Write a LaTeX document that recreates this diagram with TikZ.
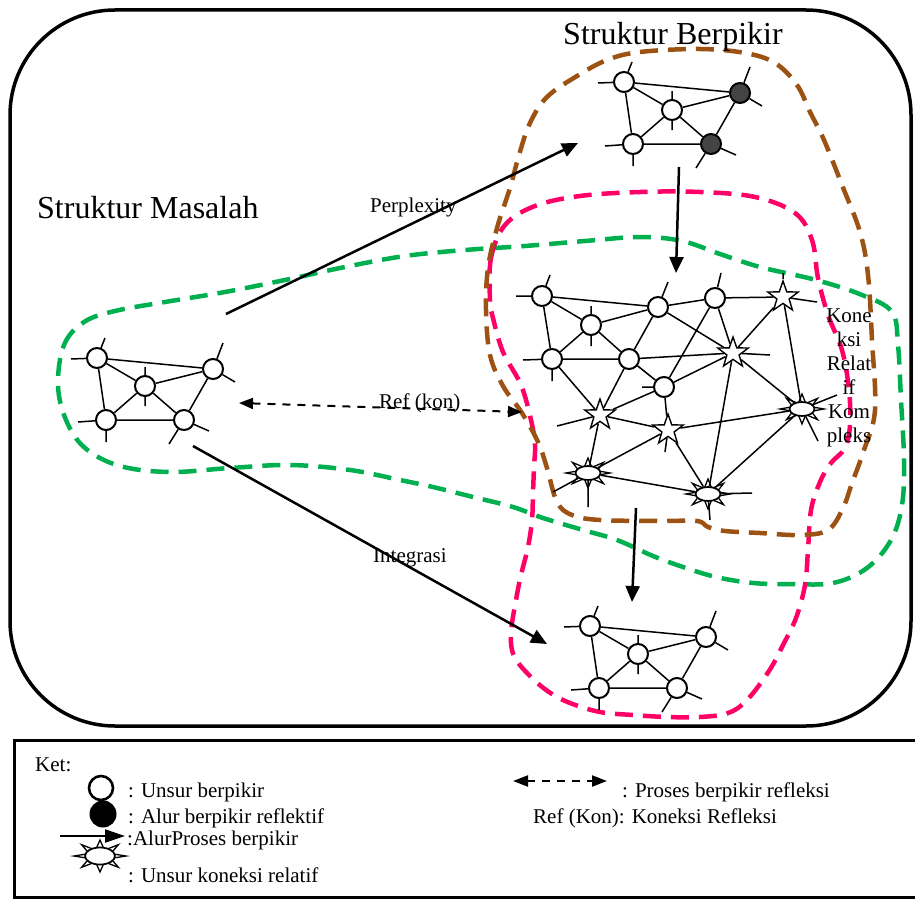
\documentclass[tikz,border=0pt]{standalone}
\usepackage{fontspec}
\setmainfont{Liberation Serif}
\usetikzlibrary{arrows.meta,shapes.geometric}

\definecolor{brownline}{RGB}{156,82,18}
\definecolor{pinkline}{RGB}{255,0,102}
\definecolor{greenline}{RGB}{0,176,80}
\definecolor{darknode}{RGB}{68,68,68}

\tikzset{
  unsur/.style={circle, draw, line width=2pt, fill=white, minimum size=20pt, inner sep=0pt},
  alur/.style={unsur, fill=darknode},
  bintang/.style={star, star points=5, star point ratio=2.5, draw, line width=1.4pt, fill=white, minimum size=32pt, inner sep=0pt},
  koneksi/.style={ellipse, draw, line width=1.7pt, fill=white, minimum width=25pt, minimum height=14pt, inner sep=0pt},
  spike/.style={draw, line width=1.3pt, fill=white, line join=miter},
  edge/.style={line width=1.5pt},
  flow/.style={line width=2.5pt, -{Triangle[length=16pt,width=14pt]}},
  refl/.style={line width=2pt, dash pattern=on 8pt off 7pt, {Triangle[length=14pt,width=11pt]}-{Triangle[length=14pt,width=11pt]}},
  region/.style={line width=4.5pt, dash pattern=on 18pt off 10pt},
  titletext/.style={font=\fontsize{32}{38}\selectfont, inner sep=0pt},
  labeltext/.style={font=\fontsize{21}{24}\selectfont, inner sep=0pt},
}

% small network: #1 prefix, #2 x, #3 y, #4 style of right node, #5 style of lower right node
\newcommand{\jaringankecil}[5]{%
  \begin{scope}[shift={(#2,#3)}]
    \node[unsur] (#1a) at (0,0) {};
    \node[unsur] (#1b) at (48,28) {};
    \node[#4] (#1c) at (116,11) {};
    \node[unsur] (#1d) at (9,62) {};
    \node[#5] (#1e) at (87,62) {};
    \draw[edge] (#1a) -- (#1c) (#1a) -- (#1b) (#1a) -- (#1d) (#1b) -- (#1c)
      (#1b) -- (#1d) (#1b) -- (#1e) (#1d) -- (#1e) (#1c) -- (#1e);
    \draw[edge] (#1a) -- +(8,-20) (#1a) -- +(-26,1) (#1b) -- +(0,-19) (#1b) -- +(0,20)
      (#1c) -- +(10,-26) (#1c) -- +(22,13) (#1d) -- +(-28,2) (#1d) -- +(0,22)
      (#1e) -- +(-15,24) (#1e) -- +(25,11);
  \end{scope}}

% relative-connection element: #1 name, #2 position, #3 spike x radius, #4 spike y radius, #5 ellipse style
\newcommand{\unsurkoneksi}[5]{%
  \draw[spike, shift={#2}] plot[samples at={0,22.5,...,337.5}, variable=\a]
    ({(#3*(1-0.55*mod(round(\a/22.5),2)))*cos(\a)}, {(#4*(1-0.6*mod(round(\a/22.5),2)))*sin(\a)}) -- cycle;
  \node[koneksi, #5] (#1) at #2 {};}

\begin{document}
\begin{tikzpicture}[x=1pt, y=-1pt]
\useasboundingbox (0,0) rectangle (915,899);

% frame
\draw[line width=3.5pt, rounded corners=105pt] (10,10) rectangle (911,726);

% grouping regions
\draw[region, greenline] plot[smooth cycle, tension=0.6] coordinates {(58,385) (64,345) (84,322) (115,311) (165,302) (225,292) (285,280) (345,267) (405,256) (465,250) (525,246) (585,241) (640,237) (682,241) (720,254) (760,267) (816,280) (862,295) (892,312) (898,345) (901,400) (904,460) (902,505) (891,540) (867,568) (833,583) (790,584) (753,583) (716,577) (683,567) (653,556) (617,540) (583,530) (543,518) (513,507) (473,497) (433,487) (400,480) (350,470) (290,465) (230,468) (170,472) (120,466) (85,448) (66,420)};
\draw[region, pinkline] plot[smooth cycle, tension=0.6] coordinates {(490,300) (491,258) (505,225) (535,206) (580,196) (640,192) (700,192) (755,197) (795,213) (812,240) (818,278) (828,315) (842,350) (849,390) (850,425) (845,448) (831,463) (820,482) (811,510) (808,550) (805,585) (796,618) (783,645) (769,671) (747,700) (728,713) (700,717) (667,717) (633,715) (600,712) (570,703) (549,692) (530,676) (514,656) (511,633) (516,600) (521,575) (528,547) (532,520) (533,493) (534,467) (535,445) (531,420) (521,385) (503,352) (493,318)};
\draw[region, brownline] plot[smooth cycle, tension=0.6] coordinates {(607,60) (640,52) (700,49) (745,53) (775,63) (797,85) (810,112) (824,140) (842,185) (860,232) (868,275) (872,340) (875,410) (864,450) (852,483) (843,508) (828,530) (800,535) (760,533) (725,531) (708,527) (697,521) (660,521) (600,520) (572,515) (557,502) (547,468) (538,442) (522,413) (503,386) (490,355) (486,310) (488,268) (497,228) (510,188) (519,155) (530,123) (547,97) (577,76)};

% titles
\node[titletext, anchor=base west] (tmasalah) at (37,218) {Struktur Masalah};
\node[titletext, anchor=base west] (tberpikir) at (563,45) {Struktur Berpikir};

% small networks
\jaringankecil{L}{97}{358}{unsur}{unsur}
\jaringankecil{T}{624}{82}{alur}{alur}
\jaringankecil{B}{590}{626}{unsur}{unsur}

% central network
\node[unsur] (m1) at (542,296) {};
\node[unsur] (m2) at (591,325) {};
\node[unsur] (m3) at (658,307) {};
\node[unsur] (m4) at (715,298) {};
\node[unsur] (m5) at (552,359) {};
\node[unsur] (m6) at (629,359) {};
\node[unsur] (m7) at (664,387) {};
\node[bintang] (s1) at (783,297) {};
\node[bintang] (s2) at (733,353) {};
\node[bintang] (s3) at (600,415) {};
\node[bintang] (s4) at (668,430) {};
\unsurkoneksi{u1}{(802,409)}{22}{15}{}
\unsurkoneksi{u2}{(588,473)}{22}{15}{}
\unsurkoneksi{u3}{(708,494)}{22}{15}{}

\draw[edge] (m1) -- (m3) (m1) -- (m2) (m1) -- (m5) (m2) -- (m3) (m2) -- (m5) (m2) -- (m6)
  (m5) -- (m6) (m3) -- (m6) (m3) -- (m4) (m3) -- (s2) (m4) -- (s1) (m4) -- (m7) (m4) -- (s2)
  (s1) -- (s2) (s1) -- (u1) (m6) -- (s2) (m6) -- (m7) (m7) -- (s2) (m7) -- (s3) (m7) -- (s4)
  (m5) -- (s3) (m6) -- (s3) (s3) -- (s4) (s3) -- (u2) (s4) -- (u1) (s4) -- (u3) (s4) -- (u2)
  (u2) -- (u3) (s2) -- (u3) (s2) -- (u1) (u3) -- (u1);
\draw[edge] (m1) -- +(8,-21) (m1) -- +(-26,0) (m2) -- +(0,-19) (m2) -- +(0,21)
  (m3) -- +(10,-25) (m4) -- +(6,-25) (m5) -- +(-29,1) (m5) -- +(0,22) (m7) -- +(-22,0)
  (s1) -- +(0,-24) (s1) -- +(34,5) (s2) -- +(37,2) (s3) -- +(-43,11) (s4) -- +(-3,22)
  (u1) -- +(35,-14) (u1) -- +(16,32) (u2) -- +(-35,19) (u2) -- +(0,34)
  (u3) -- +(44,-1) (u3) -- +(2,26);

\node[labeltext, align=center] (lkoneksi) at (849,378) {Kone\\ksi\\Relat\\if\\Kom\\pleks};

% process arrows
\coordinate (perA) at (226,314);
\coordinate (perB) at (578,143);
\draw[flow] (perA) -- (perB);
\node[labeltext, anchor=base west] (lperp) at (370,212) {Perplexity};

\coordinate (intA) at (193,446);
\coordinate (intB) at (547,644);
\draw[flow] (intA) -- (intB);
\node[labeltext, anchor=base west] (lint) at (373,562) {Integrasi};

\coordinate (refA) at (239,403);
\coordinate (refB) at (522,412);
\draw[refl] (refA) -- (refB);
\node[labeltext, anchor=base west] (lref) at (379,408) {Ref (kon)};

\coordinate (dA) at (679,167);
\coordinate (dB) at (676,273);
\draw[flow] (dA) -- (dB);
\coordinate (eA) at (636,508);
\coordinate (eB) at (632,602);
\draw[flow] (eA) -- (eB);

% legend
\draw[line width=3pt] (930,740) -- (14,740) -- (14,897) -- (930,897);
\node[labeltext, anchor=base west] (ket) at (35,771) {Ket:};
\node[unsur, minimum size=24pt, line width=2.6pt] (kc1) at (101,788) {};
\node[labeltext, anchor=base west] (kt1) at (128,797) {: Unsur berpikir};
\node[circle, fill=black, minimum size=27pt, inner sep=0pt] (kc2) at (103,814) {};
\node[labeltext, anchor=base west] (kt2) at (128,823) {: Alur berpikir reflektif};
\coordinate (kaA) at (60,836);
\coordinate (kaB) at (125,836);
\draw[line width=2.2pt, -{Triangle[length=20pt,width=13pt]}] (kaA) -- (kaB);
\node[labeltext, anchor=base west] (kt3) at (127,845) {:AlurProses berpikir};
\unsurkoneksi{kc3}{(100,856)}{26}{16}{minimum width=30pt, minimum height=17pt}
\node[labeltext, anchor=base west] (kt4) at (128,882) {: Unsur koneksi relatif};
\coordinate (krA) at (513,781);
\coordinate (krB) at (607,781);
\draw[line width=2.2pt, dash pattern=on 8pt off 7pt, {Triangle[length=15pt,width=11pt]}-{Triangle[length=15pt,width=11pt]}] (krA) -- (krB);
\node[labeltext, anchor=base west] (kt5) at (622,797) {: Proses berpikir refleksi};
\node[labeltext, anchor=base west] (kt6) at (533,823) {Ref (Kon): Koneksi Refleksi};
\end{tikzpicture}
\end{document}
